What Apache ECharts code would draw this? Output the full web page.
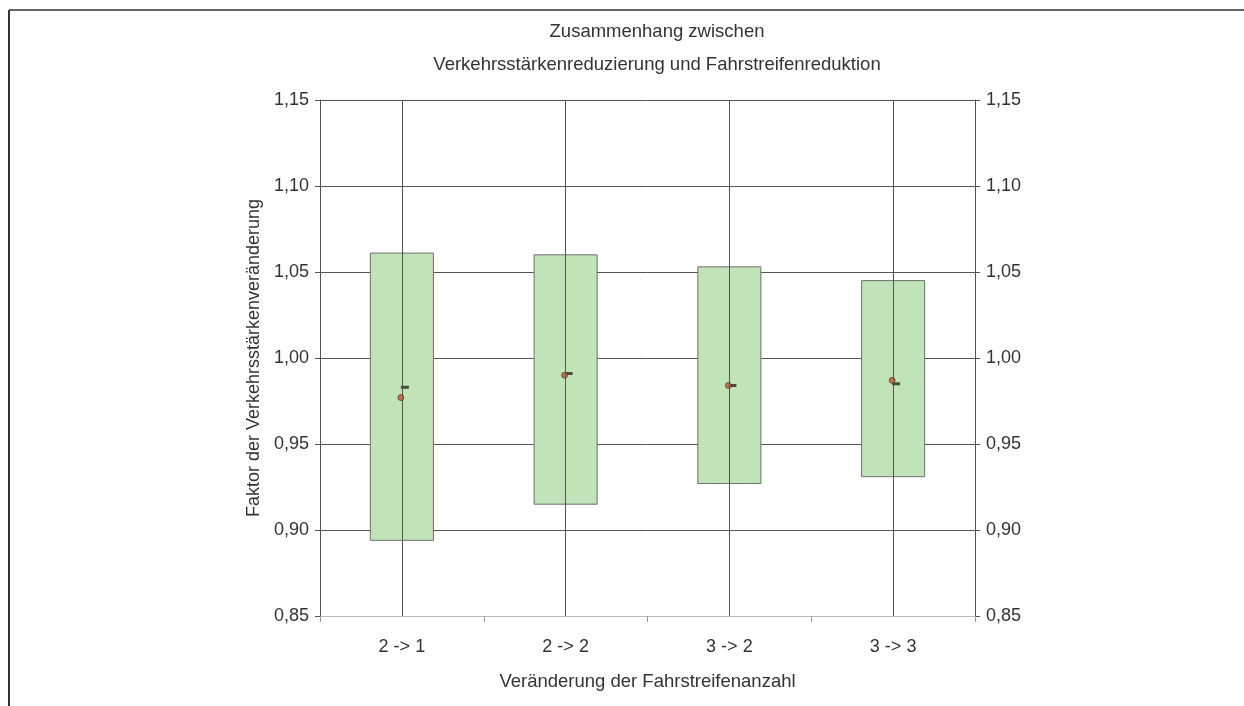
<!DOCTYPE html>
<html><head><meta charset="utf-8">
<script src="https://cdn.jsdelivr.net/npm/echarts@6/dist/echarts.min.js"></script>
<style>html,body{margin:0;padding:0;background:#fff}#c{width:1244px;height:706px}</style>
</head><body><div id="c"></div>
<script>
const categories = ['2 -> 1', '2 -> 2', '3 -> 2', '3 -> 3'];
const boxLow  = [0.894, 0.915, 0.927, 0.931];
const boxHigh = [1.061, 1.060, 1.053, 1.045];
const meanVals   = [0.977, 0.990, 0.984, 0.987];
const medianVals = [0.983, 0.991, 0.984, 0.985];
const yTicks = { min: 0.85, max: 1.15, interval: 0.05 };
const titleLines = ['Zusammenhang zwischen', 'Verkehrsstärkenreduzierung und Fahrstreifenreduktion'];
const yName = 'Faktor der Verkehrsstärkenveränderung';
const xName = 'Veränderung der Fahrstreifenanzahl';

const FONT = 'Liberation Sans, Arial, sans-serif';
const chart = echarts.init(document.getElementById('c'), null, {renderer: 'canvas'});
const fmt = v => v.toFixed(2).replace('.', ',');

const yAxisBase = {
  type: 'value', min: yTicks.min, max: yTicks.max, interval: yTicks.interval,
  axisLine: {show: true, lineStyle: {color: '#555', width: 1}},
  axisTick: {show: true, length: 5, lineStyle: {color: '#555'}},
  axisLabel: {formatter: fmt, color: '#333', fontFamily: FONT, fontSize: 18, margin: 11},
};

chart.setOption({
  animation: false,
  backgroundColor: '#fff',
  title: [
    {text: titleLines[0], left: 652, top: 17, textAlign: 'center',
     textStyle: {fontFamily: FONT, fontSize: 18.5, fontWeight: 'normal', color: '#333'}},
    {text: titleLines[1], left: 652, top: 50, textAlign: 'center',
     textStyle: {fontFamily: FONT, fontSize: 18.5, fontWeight: 'normal', color: '#333'}}
  ],
  grid: {left: 320, right: 269, top: 100, bottom: 90},
  xAxis: {
    type: 'category', data: categories, boundaryGap: true,
    name: xName, nameLocation: 'middle', nameGap: 56,
    nameTextStyle: {fontFamily: FONT, fontSize: 18.5, color: '#333'},
    axisLine: {show: true, lineStyle: {color: '#bbb'}},
    axisTick: {show: true, length: 6, lineStyle: {color: '#999'}},
    axisLabel: {color: '#333', fontFamily: FONT, fontSize: 18, margin: 22},
    splitLine: {show: false}
  },
  yAxis: [
    Object.assign({}, yAxisBase, {
      position: 'left',
      name: yName, nameLocation: 'middle', nameGap: 51,
      nameTextStyle: {fontFamily: FONT, fontSize: 18, color: '#333'},
      splitLine: {show: true, lineStyle: {color: '#555', width: 1}}
    }),
    Object.assign({}, yAxisBase, {position: 'right', splitLine: {show: false}})
  ],
  graphic: [
    {type: 'line', shape: {x1: 9, y1: 10, x2: 1244, y2: 10}, style: {stroke: '#666', lineWidth: 2}},
    {type: 'line', shape: {x1: 9, y1: 10, x2: 9, y2: 706}, style: {stroke: '#333', lineWidth: 2}}
  ],
  series: [
    {
      type: 'custom', name: 'Box',
      data: categories.map((c, i) => [i, boxLow[i], boxHigh[i]]),
      encode: {x: 0, y: [1, 2]},
      renderItem: function (params, api) {
        const lo = api.coord([api.value(0), api.value(1)]);
        const hi = api.coord([api.value(0), api.value(2)]);
        const w = api.size([1, 0])[0] * 0.385;
        return {
          type: 'rect',
          shape: {x: lo[0] - w / 2, y: hi[1], width: w, height: lo[1] - hi[1]},
          style: {fill: '#c0e3b8', stroke: '#6f6f6f', lineWidth: 1}
        };
      },
      markLine: {
        silent: true, symbol: 'none', label: {show: false},
        lineStyle: {color: '#555', width: 1, type: 'solid'},
        data: categories.map(c => ({xAxis: c}))
      },
      z: 2
    },
    {
      type: 'scatter', name: 'Median',
      data: medianVals.map((v, i) => [i, v]),
      symbol: 'rect', symbolSize: [8, 3], symbolOffset: [3, 0],
      itemStyle: {color: '#2a2420'}, z: 4
    },
    {
      type: 'scatter', name: 'Mittelwert',
      data: meanVals.map((v, i) => [i, v]),
      symbol: 'circle', symbolSize: 6, symbolOffset: [-1, 0],
      itemStyle: {color: '#b55a3a', borderColor: '#4a2a20', borderWidth: 0.8}, z: 5
    }
  ]
});
</script>
</body></html>
